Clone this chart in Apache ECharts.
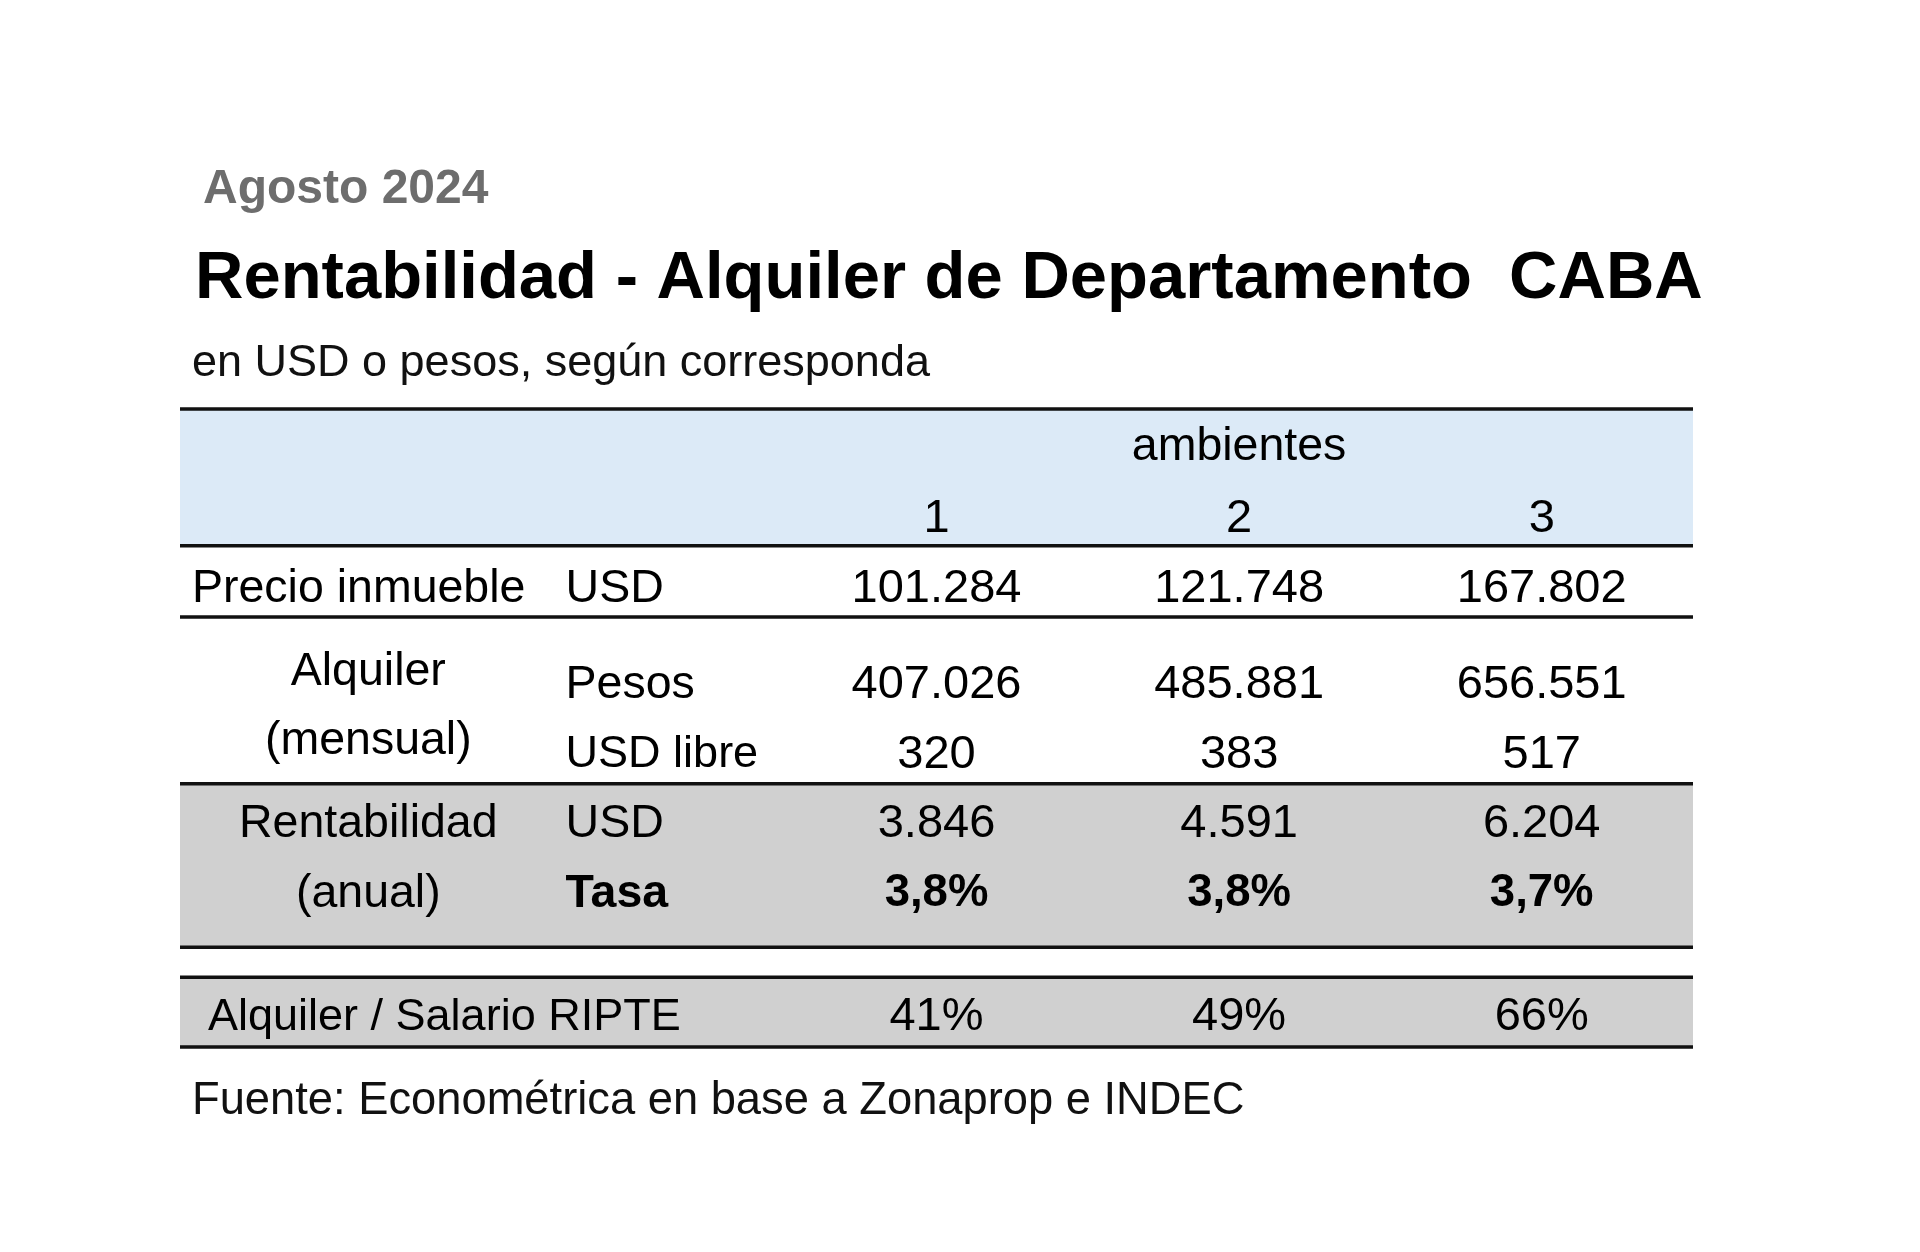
<!DOCTYPE html>
<html><head><meta charset="utf-8">
<script src="https://cdn.jsdelivr.net/npm/echarts@6/dist/echarts.min.js"></script>
<style>html,body{margin:0;padding:0;background:#fff}#chart{width:1920px;height:1252px}</style>
</head><body><div id="chart"></div>
<script>
// ---- data ----
const ambientes = ['1', '2', '3'];
const precioInmuebleUSD = [101284, 121748, 167802];
const alquilerPesos = [407026, 485881, 656551];
const alquilerUSDLibre = [320, 383, 517];
const rentabilidadUSD = [3846, 4591, 6204];
const tasaAnual = [3.8, 3.8, 3.7];
const alquilerSalarioRIPTE = [41, 49, 66];
const columns = ['concepto', 'unidad', '1', '2', '3'];

// ---- formatting ----
function miles(v) { return String(v).replace(/\B(?=(\d{3})+(?!\d))/g, '.'); }
function pct1(v) { return v.toFixed(1).replace('.', ',') + '%'; }
function pct0(v) { return v + '%'; }

// ---- layout (row positions in row units) ----
const rowY = { amb: 0.49, num: 1.52, precio: 2.52, pesos: 3.9, usdLibre: 4.9, rent: 5.89, tasa: 6.89, ripte: 8.66,
               alq1: 3.72, alq2: 4.70 };
const ruleY = [0, 1.96, 2.98, 5.37, 7.71, 8.14, 9.14];
const bandsY = [[0, 1.96, '#DCEAF7'], [5.37, 7.71, '#D0D0D0'], [8.14, 9.14, '#D0D0D0']];

const FONT = '"Liberation Sans", Arial, sans-serif';
const cells = [];
function add(col, y, text, opt) { cells.push(Object.assign({ col: col, y: y, text: text }, opt || {})); }

add(3, rowY.amb, 'ambientes');
ambientes.forEach((a, i) => add(2 + i, rowY.num, a, { num: true }));
add(0, rowY.precio, 'Precio inmueble', { anchor: 'left', dx: 12 });
add(1, rowY.precio, 'USD', { anchor: 'left', dx: 83 });
precioInmuebleUSD.forEach((v, i) => add(2 + i, rowY.precio, miles(v), { num: true }));
add(0, rowY.alq1, 'Alquiler', { dx: 37 });
add(0, rowY.alq2, '(mensual)', { dx: 37 });
add(1, rowY.pesos, 'Pesos', { anchor: 'left', dx: 83 });
add(1, rowY.usdLibre, 'USD libre', { anchor: 'left', dx: 83, size: 45 });
alquilerPesos.forEach((v, i) => add(2 + i, rowY.pesos, miles(v), { num: true }));
alquilerUSDLibre.forEach((v, i) => add(2 + i, rowY.usdLibre, miles(v), { num: true }));
add(0, rowY.rent, 'Rentabilidad', { dx: 37 });
add(0, rowY.tasa, '(anual)', { dx: 37 });
add(1, rowY.rent, 'USD', { anchor: 'left', dx: 83 });
add(1, rowY.tasa, 'Tasa', { anchor: 'left', dx: 83, bold: true });
rentabilidadUSD.forEach((v, i) => add(2 + i, rowY.rent, miles(v), { num: true }));
tasaAnual.forEach((v, i) => add(2 + i, rowY.tasa, pct1(v), { bold: true, size: 45.5 }));
add(0, rowY.ripte, 'Alquiler / Salario RIPTE', { anchor: 'left', dx: 28, size: 45 });
alquilerSalarioRIPTE.forEach((v, i) => add(2 + i, rowY.ripte, pct0(v), { num: true }));

const chart = echarts.init(document.getElementById('chart'), null, { renderer: 'canvas' });

function spanX(api, y) {
  const bw = api.size([1, 0])[0];
  const x0 = api.coord([0, y])[0] - bw / 2;
  const x1 = api.coord([columns.length - 1, y])[0] + bw / 2;
  return [x0, x1];
}

chart.setOption({
  backgroundColor: '#ffffff',
  animation: false,
  title: [
    { text: 'Agosto 2024', left: 203, top: 162, padding: 0,
      textStyle: { fontFamily: FONT, fontSize: 48, fontWeight: 'bold', color: '#6d6d6d', lineHeight: 56 } },
    { text: 'Rentabilidad - Alquiler de Departamento  CABA', left: 195, top: 240, padding: 0,
      textStyle: { fontFamily: FONT, fontSize: 67, fontWeight: 'bold', color: '#000', lineHeight: 80 } },
    { text: 'en USD o pesos, según corresponda', left: 192, top: 337, padding: 0,
      textStyle: { fontFamily: FONT, fontSize: 45, fontWeight: 'normal', color: '#111', lineHeight: 54 } },
    { text: 'Fuente: Econométrica en base a Zonaprop e INDEC', left: 192, top: 1075, padding: 0,
      textStyle: { fontFamily: FONT, fontSize: 45.3, fontWeight: 'normal', color: '#111', lineHeight: 54 } }
  ],
  grid: { left: 180, right: 227, top: 409, bottom: 205, containLabel: false },
  xAxis: { type: 'category', data: columns, boundaryGap: true, show: false },
  yAxis: { type: 'value', min: 0, max: 9.14, inverse: true, show: false },
  series: [
    {
      type: 'custom', name: 'bandas', z: 1, silent: true,
      data: bandsY.map(b => [0, b[0], b[1]]),
      renderItem: function (params, api) {
        const b = bandsY[params.dataIndex];
        const y0 = api.coord([0, api.value(1)])[1];
        const y1 = api.coord([0, api.value(2)])[1];
        const sx = spanX(api, api.value(1));
        return { type: 'rect', shape: { x: sx[0], y: y0, width: sx[1] - sx[0], height: y1 - y0 }, style: { fill: b[2] } };
      }
    },
    {
      type: 'custom', name: 'reglas', z: 3, silent: true,
      data: ruleY.map(y => [0, y]),
      renderItem: function (params, api) {
        const y = api.coord([0, api.value(1)])[1];
        const sx = spanX(api, api.value(1));
        return { type: 'line', shape: { x1: sx[0], y1: y, x2: sx[1], y2: y }, style: { stroke: '#111', lineWidth: 3.5 } };
      }
    },
    {
      type: 'custom', name: 'celdas', z: 5, silent: true,
      data: cells.map(c => [c.col, c.y]),
      renderItem: function (params, api) {
        const c = cells[params.dataIndex];
        const pt = api.coord([api.value(0), api.value(1)]);
        const bw = api.size([1, 0])[0];
        let x = pt[0], align = 'center';
        if (c.anchor === 'left') { x = pt[0] - bw / 2 + c.dx; align = 'left'; }
        else if (c.dx) { x = pt[0] + c.dx; }
        const size = c.size || (c.num ? 47 : 46.5);
        return {
          type: 'text', x: x, y: pt[1] + 4,
          style: { text: c.text, align: align, verticalAlign: 'middle',
                   font: (c.bold ? 'bold ' : '') + size + 'px ' + FONT, fill: '#000' }
        };
      }
    }
  ]
});
</script></body></html>
